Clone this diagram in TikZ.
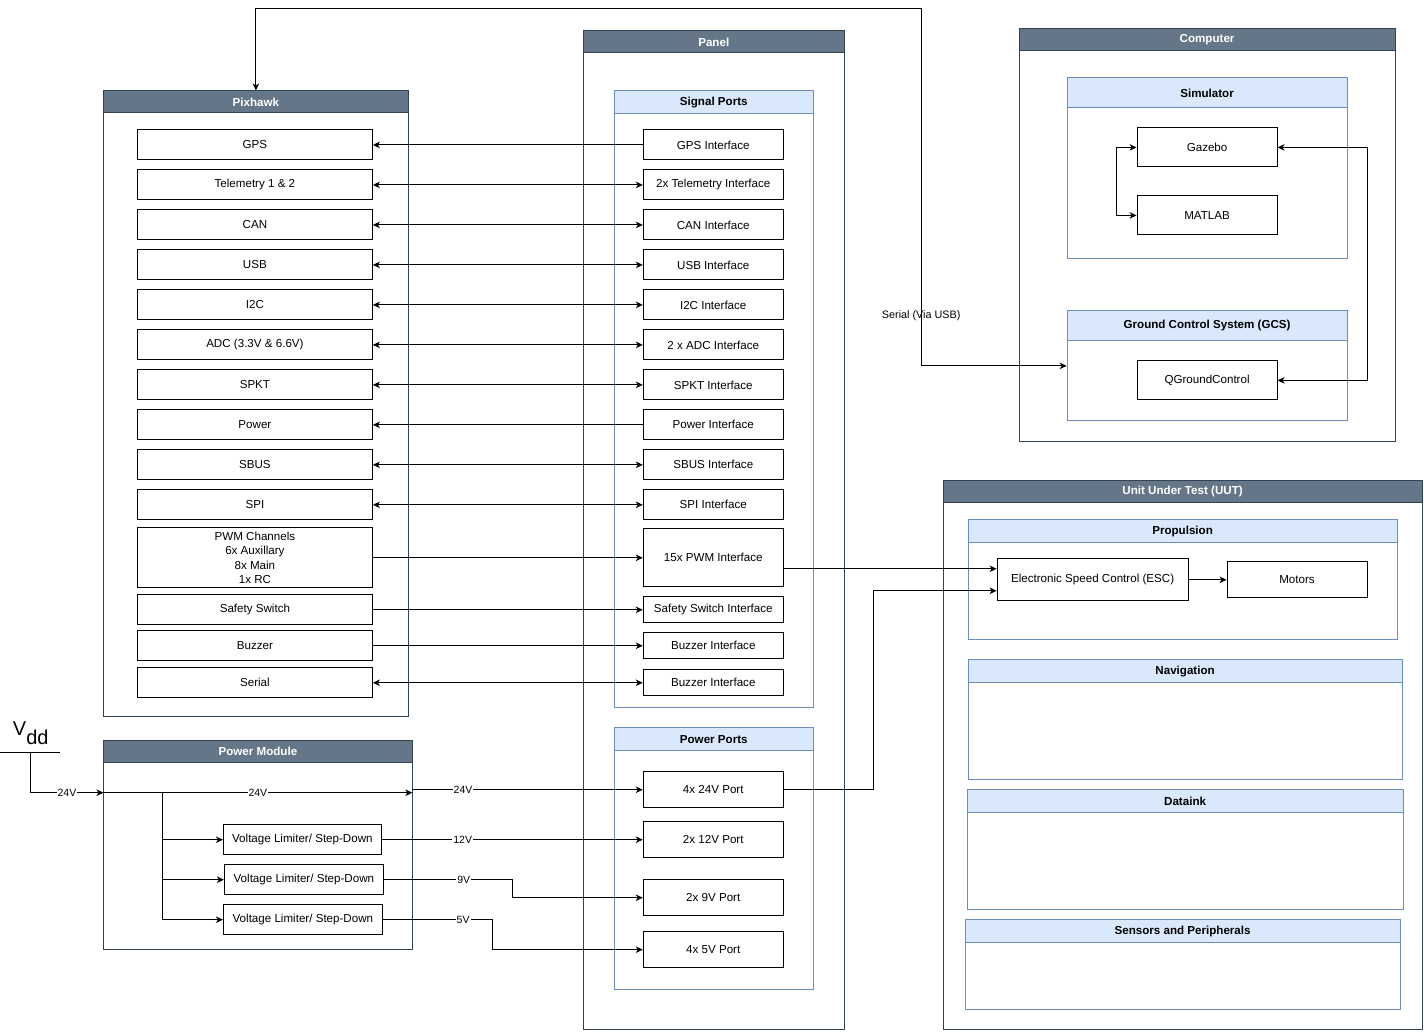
\documentclass[tikz,border=0pt]{standalone}
\usepackage{fontspec}
\setmainfont{Liberation Sans}
\usepackage{xcolor}
\usetikzlibrary{arrows.meta}

\definecolor{headdark}{HTML}{647687}
\definecolor{frameline}{HTML}{314354}
\definecolor{grouplight}{HTML}{DAE8FC}
\definecolor{groupline}{HTML}{6C8EBF}

\tikzset{
  frame/.style={draw=frameline, fill=white, inner sep=0pt},
  darkhd/.style={draw=frameline, fill=headdark, text=white, font=\fontsize{11.6}{14}\selectfont\bfseries, anchor=north, minimum height=22pt, inner sep=0pt},
  group/.style={draw=groupline, fill=white, inner sep=0pt},
  grouphd/.style={draw=groupline, fill=grouplight, font=\fontsize{11.6}{14}\selectfont\bfseries, anchor=north, minimum height=23pt, inner sep=0pt},
  pin/.style={draw, fill=white, inner sep=0pt, minimum width=235pt, minimum height=30pt},
  port/.style={draw, fill=white, inner sep=0pt, minimum width=140pt, minimum height=30pt},
  volt/.style={fill=white, inner sep=1pt, font=\fontsize{10.5}{12}\selectfont},
}

\begin{document}
\begin{tikzpicture}[x=1pt,y=-1pt,line width=1pt,font=\fontsize{11.6}{14.3}\selectfont,
    >={Stealth[length=7pt,width=6.5pt,inset=2pt]}]
        \fill[white] (0,0) rectangle (1424,1032);
        % containers
        \node[frame, minimum width=305pt, minimum height=626pt] (pixhawk) at (255.5,404) {};
        \node[darkhd, minimum width=305pt] (pixhawkhd) at (pixhawk.north) {Pixhawk};
        \node[frame, minimum width=261pt, minimum height=999pt] (panel) at (713.5,530.5) {};
        \node[darkhd, minimum width=261pt] (panelhd) at (panel.north) {Panel};
        \node[frame, minimum width=376pt, minimum height=413pt] (computer) at (1207,235.5) {};
        \node[darkhd, minimum width=376pt] (computerhd) at (computer.north) {Computer};
        \node[frame, minimum width=479pt, minimum height=549pt] (uut) at (1182.5,755.5) {};
        \node[darkhd, minimum width=479pt] (uuthd) at (uut.north) {Unit Under Test (UUT)};
        \node[frame, minimum width=309pt, minimum height=209pt] (pm) at (257.5,845.5) {};
        \node[darkhd, minimum width=309pt] (pmhd) at (pm.north) {Power Module};

        \node[group, minimum width=199pt, minimum height=617pt] (sig) at (713.5,399.5) {};
        \node[grouphd, minimum width=199pt] (sighd) at (sig.north) {Signal Ports};
        \node[group, minimum width=199pt, minimum height=262pt] (pwr) at (713.5,859) {};
        \node[grouphd, minimum width=199pt] (pwrhd) at (pwr.north) {Power Ports};
        \node[group, minimum width=280pt, minimum height=181pt] (sim) at (1207,168.5) {};
        \node[grouphd, minimum width=280pt, minimum height=30pt] (simhd) at (sim.north) {Simulator};
        \node[group, minimum width=280pt, minimum height=110pt] (gcs) at (1207,366) {};
        \node[grouphd, minimum width=280pt, minimum height=30pt] (gcshd) at (gcs.north) {Ground Control System (GCS)};
        \node[group, minimum width=429pt, minimum height=120pt] (prop) at (1182.5,580) {};
        \node[grouphd, minimum width=429pt] (prophd) at (prop.north) {Propulsion};
        \node[group, minimum width=434pt, minimum height=120pt] (nav) at (1185,720) {};
        \node[grouphd, minimum width=434pt] (navhd) at (nav.north) {Navigation};
        \node[group, minimum width=436pt, minimum height=120pt] (dlink) at (1185,850) {};
        \node[grouphd, minimum width=436pt] (dlinkhd) at (dlink.north) {Dataink};
        \node[group, minimum width=435pt, minimum height=90pt] (sens) at (1182.5,965) {};
        \node[grouphd, minimum width=435pt] (senshd) at (sens.north) {Sensors and Peripherals};

        % pixhawk pins
        \node[pin] (gps) at (254.5,145) {GPS};
        \node[pin] (tel) at (254.5,185) {Telemetry 1 \& 2};
        \node[pin] (can) at (254.5,225) {CAN};
        \node[pin] (usb) at (254.5,265) {USB};
        \node[pin] (iic) at (254.5,305) {I2C};
        \node[pin] (adc) at (254.5,345) {ADC (3.3V \& 6.6V)};
        \node[pin] (spkt) at (254.5,385) {SPKT};
        \node[pin] (power) at (254.5,425) {Power};
        \node[pin] (sbus) at (254.5,465) {SBUS};
        \node[pin] (spi) at (254.5,505) {SPI};
        \node[pin, minimum height=60pt, align=center] (pwm) at (254.5,558) {PWM Channels\\6x Auxillary\\8x Main\\1x RC};
        \node[pin] (safety) at (254.5,610) {Safety Switch};
        \node[pin] (buzzer) at (254.5,646) {Buzzer};
        \node[pin] (serial) at (254.5,683) {Serial};

        % panel interfaces
        \node[port] (gpsif) at (713,145) {GPS Interface};
        \node[port] (telif) at (713,185) {2x Telemetry Interface};
        \node[port] (canif) at (713,225) {CAN Interface};
        \node[port] (usbif) at (713,265) {USB Interface};
        \node[port] (iicif) at (713,305) {I2C Interface};
        \node[port] (adcif) at (713,345) {2 x ADC Interface};
        \node[port] (spktif) at (713,385) {SPKT Interface};
        \node[port] (powerif) at (713,425) {Power Interface};
        \node[port] (sbusif) at (713,465) {SBUS Interface};
        \node[port] (spiif) at (713,505) {SPI Interface};
        \node[port, minimum height=58pt] (pwmif) at (713,558) {15x PWM Interface};
        \node[port, minimum height=26pt] (safetyif) at (713,610) {Safety Switch Interface};
        \node[port, minimum height=26pt] (buzzerif) at (713,646) {Buzzer Interface};
        \node[port, minimum height=26pt] (serialif) at (713,683) {Buzzer Interface};

        \node[port, minimum height=36pt] (p24) at (713,790) {4x 24V Port};
        \node[port, minimum height=36pt] (p12) at (713,840) {2x 12V Port};
        \node[port, minimum height=36pt] (p9) at (713,898) {2x 9V Port};
        \node[port, minimum height=36pt] (p5) at (713,950) {4x 5V Port};

        % power module
        \node[anchor=base west, inner sep=0pt] (vdd) at (12,736) {\fontsize{20}{20}\selectfont V\raisebox{-9pt}{dd}};
        \draw (0,753) -- (60,753);
        \coordinate (vddbar) at (30,753);
        \coordinate (pmin) at (103,793);
        \coordinate (pmout) at (412,793);
        \coordinate (split) at (162,793);
        \node[draw, fill=white, inner sep=0pt, minimum width=158pt, minimum height=30pt] (lv1) at (302,840) {Voltage Limiter/ Step-Down};
        \node[draw, fill=white, inner sep=0pt, minimum width=159pt, minimum height=30pt] (lv2) at (303.5,880) {Voltage Limiter/ Step-Down};
        \node[draw, fill=white, inner sep=0pt, minimum width=159pt, minimum height=30pt] (lv3) at (302.5,920) {Voltage Limiter/ Step-Down};

        % computer
        \node[port, minimum height=39pt] (gazebo) at (1207,147.5) {Gazebo};
        \node[port, minimum height=39pt] (matlab) at (1207,215.5) {MATLAB};
        \node[port, minimum height=39pt] (qgc) at (1207,380.5) {QGroundControl};

        % uut
        \node[draw, fill=white, inner sep=0pt, minimum width=191pt, minimum height=42pt] (esc) at (1092.5,580) {Electronic Speed Control (ESC)};
        \node[port, minimum height=36pt] (motors) at (1297,580) {Motors};

        % signal links
        \draw[->] (gpsif.west) -- (gps.east);
        \draw[<->] (tel.east) -- (telif.west);
        \draw[<->] (can.east) -- (canif.west);
        \draw[<->] (usb.east) -- (usbif.west);
        \draw[<->] (iic.east) -- (iicif.west);
        \draw[<->] (adc.east) -- (adcif.west);
        \draw[<->] (spkt.east) -- (spktif.west);
        \draw[->] (powerif.west) -- (power.east);
        \draw[<->] (sbus.east) -- (sbusif.west);
        \draw[<->] (spi.east) -- (spiif.west);
        \draw[->] (pwm.east) -- (pwmif.west);
        \draw[->] (safety.east) -- (safetyif.west);
        \draw[->] (buzzer.east) -- (buzzerif.west);
        \draw[<->] (serial.east) -- (serialif.west);

        % serial to gcs
        \draw[<->] (pixhawkhd.north) |- (921,9) |- (gcs.west);
        \node[font=\fontsize{10.8}{12}\selectfont] (lblserial) at (921,316) {Serial (Via USB)};

        % power links
        \draw[->] (vddbar) |- node[volt, pos=0.75] {24V} (pmin);
        \draw[->] (pmin) -- node[volt] {24V} (pmout);
        \draw[->] (split) |- (lv1.west);
        \draw[->] (split) |- (lv2.west);
        \draw[->] (split) |- (lv3.west);
        \draw[->] (pmout |- p24) -- node[volt, pos=0.22] {24V} (p24.west);
        \draw[->] (lv1.east) -- node[volt, pos=0.31] {12V} (p12.west);
        \draw[->] (lv2.east) -- node[volt, pos=0.62] {9V} ++(129,0) |- (p9.west);
        \draw[->] (lv3.east) -- node[volt, pos=0.73] {5V} ++(110,0) |- (p5.west);

        % to uut
        \draw[->] ([yshift=-11pt]pwmif.east) -- ([yshift=11pt]esc.west);
        \draw[->] (p24.east) -- ++(90,0) |- ([yshift=-11pt]esc.west);
        \draw[->] (esc) -- (motors);

        % inside computer
        \draw[<->] (gazebo.west) -- ++(-20,0) |- (matlab.west);
        \draw[<->] (gazebo.east) -- ++(90,0) |- (qgc.east);
\end{tikzpicture}
\end{document}
